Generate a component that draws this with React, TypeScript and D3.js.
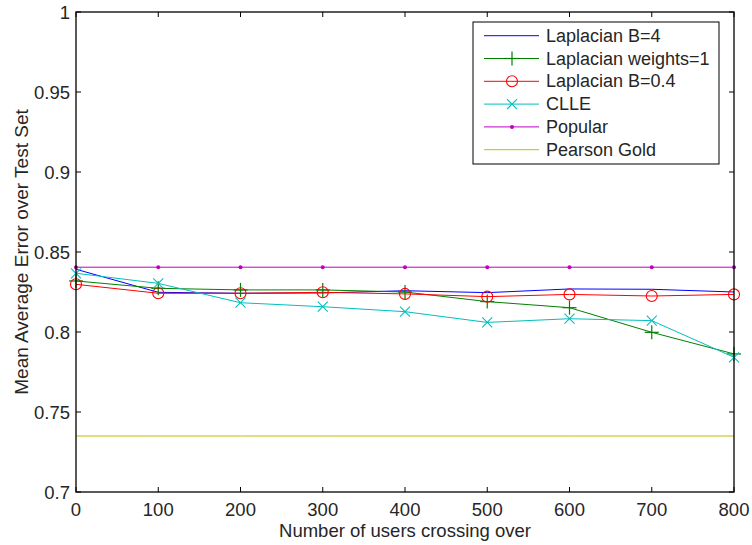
import React from "react";
import * as d3 from "d3";

const xValues = [0, 100, 200, 300, 400, 500, 600, 700, 800];
const lapB4 = [0.8392, 0.8248, 0.8242, 0.8244, 0.8258, 0.8246, 0.8269, 0.8267, 0.825];
const lapW1 = [0.8319, 0.8273, 0.8263, 0.8263, 0.8250, 0.8190, 0.8152, 0.7998, 0.7863];
const lapB04 = [0.8298, 0.8242, 0.8242, 0.8248, 0.8238, 0.8221, 0.8235, 0.8225, 0.8235];
const clle = [0.8367, 0.8304, 0.8183, 0.8158, 0.8127, 0.806, 0.8083, 0.8071, 0.7842];
const popular = [0.8405, 0.8405, 0.8405, 0.8405, 0.8405, 0.8405, 0.8405, 0.8405, 0.8405];
const pearsonGold = [0.735, 0.735, 0.735, 0.735, 0.735, 0.735, 0.735, 0.735, 0.735];

const seriesNames = ["Laplacian B=4", "Laplacian weights=1", "Laplacian B=0.4", "CLLE", "Popular", "Pearson Gold"];
const yTicks = [0.7, 0.75, 0.8, 0.85, 0.9, 0.95, 1];
const yTickLabels = ["0.7", "0.75", "0.8", "0.85", "0.9", "0.95", "1"];
const xTicks = [0, 100, 200, 300, 400, 500, 600, 700, 800];

type Marker = "none" | "plus" | "circle" | "x" | "dot";
const series: { name: string; values: number[]; color: string; marker: Marker }[] = [
  { name: seriesNames[0], values: lapB4, color: "#0000ff", marker: "none" },
  { name: seriesNames[1], values: lapW1, color: "#008000", marker: "plus" },
  { name: seriesNames[2], values: lapB04, color: "#ff0000", marker: "circle" },
  { name: seriesNames[3], values: clle, color: "#00bfbf", marker: "x" },
  { name: seriesNames[4], values: popular, color: "#bf00bf", marker: "dot" },
  { name: seriesNames[5], values: pearsonGold, color: "#bfbf00", marker: "none" },
];

const FONT = "'Liberation Sans', Arial, Helvetica, sans-serif";
const TEXT = "#262626";

function MarkerShape({ type, x, y, color }: { type: Marker; x: number; y: number; color: string }) {
  if (type === "plus") {
    const s = 7;
    return (
      <g stroke={color} strokeWidth={1.2}>
        <line x1={x - s} x2={x + s} y1={y} y2={y} />
        <line x1={x} x2={x} y1={y - s} y2={y + s} />
      </g>
    );
  }
  if (type === "circle") {
    return <circle cx={x} cy={y} r={5.5} fill="none" stroke={color} strokeWidth={1.1} />;
  }
  if (type === "x") {
    const s = 5;
    return (
      <g stroke={color} strokeWidth={1.1}>
        <line x1={x - s} x2={x + s} y1={y - s} y2={y + s} />
        <line x1={x - s} x2={x + s} y1={y + s} y2={y - s} />
      </g>
    );
  }
  if (type === "dot") {
    return <circle cx={x} cy={y} r={2} fill={color} />;
  }
  return null;
}

export default function App() {
  const W = 752, H = 545;
  const left = 76, right = 734, top = 12, bottom = 492;
  const x = d3.scaleLinear().domain([0, 800]).range([left, right]);
  const y = d3.scaleLinear().domain([0.7, 1]).range([bottom, top]);
  const line = d3.line<number>().x((_, i) => x(xValues[i])).y((d) => y(d));
  const tl = 5;

  const legX = 473, legY = 22, legW = 246, legH = 142;
  const rowY0 = 35.7, rowStep = 22.8;

  return (
    <svg width={W} height={H} style={{ position: "absolute", left: 0, top: 0, background: "#fff" }} fontFamily={FONT}>
      <rect x={0} y={0} width={W} height={H} fill="#fff" />
      {series.map((s) => (
        <g key={s.name}>
          <path d={line(s.values) || ""} fill="none" stroke={s.color} strokeWidth={1} />
          {s.marker !== "none" &&
            s.values.map((v, i) => (
              <MarkerShape key={i} type={s.marker} x={x(xValues[i])} y={y(v)} color={s.color} />
            ))}
        </g>
      ))}
      <g stroke="#000" strokeWidth={1}>
        {xTicks.map((t) => (
          <g key={"xt" + t}>
            <line x1={x(t)} x2={x(t)} y1={bottom} y2={bottom - tl} />
            <line x1={x(t)} x2={x(t)} y1={top} y2={top + tl} />
          </g>
        ))}
        {yTicks.map((t) => (
          <g key={"yt" + t}>
            <line x1={left} x2={left + tl} y1={y(t)} y2={y(t)} />
            <line x1={right} x2={right - tl} y1={y(t)} y2={y(t)} />
          </g>
        ))}
      </g>
      <rect x={left} y={top} width={right - left} height={bottom - top} fill="none" stroke="#000" strokeWidth={1.3} />
      {xTicks.map((t) => (
        <text key={"xl" + t} x={x(t)} y={509} textAnchor="middle" dominantBaseline="central" fontSize={18.5} fill={TEXT}>
          {t}
        </text>
      ))}
      {yTicks.map((t, i) => (
        <text key={"yl" + t} x={left - 6} y={y(t)} textAnchor="end" dominantBaseline="central" fontSize={18.5} fill={TEXT}>
          {yTickLabels[i]}
        </text>
      ))}
      <text x={(left + right) / 2} y={530} textAnchor="middle" dominantBaseline="central" fontSize={18.5} fill={TEXT}>
        Number of users crossing over
      </text>
      <text
        transform={`translate(21,${(top + bottom) / 2}) rotate(-90)`}
        textAnchor="middle"
        dominantBaseline="central"
        fontSize={19}
        fill={TEXT}
      >
        Mean Average Error over Test Set
      </text>
      <rect x={legX} y={legY} width={legW} height={legH} fill="#fff" stroke="#000" strokeWidth={1} />
      {series.map((s, i) => {
        const ry = rowY0 + i * rowStep;
        return (
          <g key={"lg" + s.name}>
            <line x1={484} x2={539} y1={ry} y2={ry} stroke={s.color} strokeWidth={1} />
            <MarkerShape type={s.marker} x={512} y={ry} color={s.color} />
            <text x={546} y={ry} dominantBaseline="central" fontSize={18} fill={TEXT}>
              {s.name}
            </text>
          </g>
        );
      })}
    </svg>
  );
}
